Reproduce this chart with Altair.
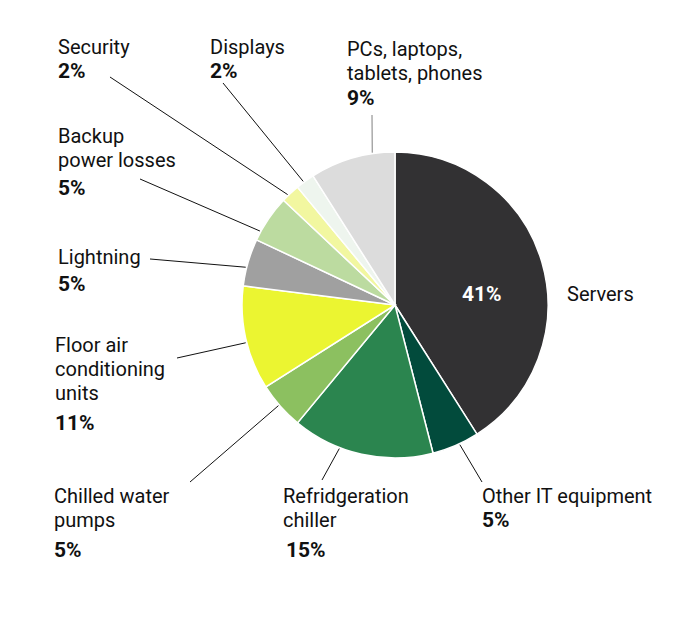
import math
import altair as alt
import pandas as pd

# Data centre energy use by component (share of total, %)
categories = [
    "Servers", "Other IT equipment", "Refridgeration chiller",
    "Chilled water pumps", "Floor air conditioning units", "Lightning",
    "Backup power losses", "Security", "Displays", "PCs, laptops, tablets, phones",
]
shares = [41, 5, 15, 5, 11, 5, 5, 2, 2, 9]
colors = [
    "#323133", "#024b3c", "#2b854f", "#8cc060", "#ebf531",
    "#a0a0a0", "#bcdba0", "#f2f7a0", "#eef5ee", "#dcdcdc",
]
label_lines = [
    ["Servers"], ["Other IT equipment"], ["Refridgeration", "chiller"],
    ["Chilled water", "pumps"], ["Floor air", "conditioning", "units"],
    ["Lightning"], ["Backup", "power losses"], ["Security"], ["Displays"],
    ["PCs, laptops,", "tablets, phones"],
]

# ---- layout (page pixels) ----
W, H = 666, 609
OFF = 8
CX, CY, R = 395, 305, 153
LINE_GAP = 24
FONT = "Roboto"
FS = 20
FS_PCT = 21

# label x, first baseline, pct baseline, leader outer end (x, y), leader anchor angle (deg)
layout = {
    "Servers": (567, 301, None, None, None),
    "Other IT equipment": (482, 503, 527, (482, 482), 155.1),
    "Refridgeration chiller": (283, 503, 557, (322, 480), 201.2),
    "Chilled water pumps": (54, 503, 557, (190, 482), 229.2),
    "Floor air conditioning units": (55, 352, 430, (177, 358), 255.8),
    "Lightning": (58, 264, 291, (150, 259), 284.2),
    "Backup power losses": (58, 143, 195, (140, 179), 298.7),
    "Security": (58, 54, 78, (110, 77), 315.8),
    "Displays": (210, 54, 78, (223, 83), 323.4),
    "PCs, laptops, tablets, phones": (347, 56, 105, (372, 115), 351.5),
}

slices = pd.DataFrame({
    "category": categories,
    "share": shares,
    "order": list(range(len(categories))),
})

text_rows, pct_rows, leader_rows = [], [], []
for cat, share, lines in zip(categories, shares, label_lines):
    lx, ly, py, end, ang = layout[cat]
    for i, t in enumerate(lines):
        text_rows.append({"x": lx, "y": ly + i * LINE_GAP, "text": t})
    if py is not None:
        pct_rows.append({"x": lx, "y": py, "text": f"{share}%"})
    if end is not None:
        a = math.radians(ang)
        leader_rows.append({
            "x": CX + (R + 1) * math.sin(a), "y": CY - (R + 1) * math.cos(a),
            "x2": end[0], "y2": end[1],
            "grey": cat.startswith("PCs"),
        })

# the 15% sits a little to the right of its label
pct_rows = [dict(r, x=r["x"] + 3) if r["text"] == "15%" else r for r in pct_rows]

xs = alt.Scale(domain=[OFF, OFF + W], nice=False, zero=False)
ys = alt.Scale(domain=[OFF, OFF + H], nice=False, zero=False, reverse=True)

pie = alt.Chart(slices).mark_arc(
    outerRadius=R, stroke="white", strokeWidth=1.5
).encode(
    theta=alt.Theta("share:Q", stack=True),
    order=alt.Order("order:Q"),
    color=alt.Color("category:N", scale=alt.Scale(domain=categories, range=colors), legend=None),
    x=alt.X(datum=CX, scale=xs, axis=None),
    y=alt.Y(datum=CY, scale=ys, axis=None),
)

leaders = alt.Chart(pd.DataFrame(leader_rows)).mark_rule(strokeWidth=1).encode(
    x=alt.X("x:Q", scale=xs, axis=None),
    y=alt.Y("y:Q", scale=ys, axis=None),
    x2="x2:Q",
    y2="y2:Q",
    color=alt.condition("datum.grey", alt.value("#808080"), alt.value("#111111")),
)

names = alt.Chart(pd.DataFrame(text_rows)).mark_text(
    align="left", baseline="alphabetic", font=FONT, fontSize=FS, color="#111111"
).encode(
    x=alt.X("x:Q", scale=xs, axis=None),
    y=alt.Y("y:Q", scale=ys, axis=None),
    text="text:N",
)

pcts = alt.Chart(pd.DataFrame(pct_rows)).mark_text(
    align="left", baseline="alphabetic", font=FONT, fontSize=FS_PCT, fontWeight="bold", color="#111111"
).encode(
    x=alt.X("x:Q", scale=xs, axis=None),
    y=alt.Y("y:Q", scale=ys, axis=None),
    text="text:N",
)

inside = alt.Chart(pd.DataFrame([{"x": 462, "y": 301, "text": f"{shares[0]}%"}])).mark_text(
    align="left", baseline="alphabetic", font=FONT, fontSize=FS_PCT, fontWeight="bold", color="white"
).encode(
    x=alt.X("x:Q", scale=xs, axis=None),
    y=alt.Y("y:Q", scale=ys, axis=None),
    text="text:N",
)

chart = alt.layer(pie, leaders, names, pcts, inside).properties(
    width=W, height=H, padding=0, autosize=alt.AutoSizeParams(type="none")
).configure_view(stroke=None)

chart.save("out.html", embed_options={"renderer": "svg", "actions": False})
